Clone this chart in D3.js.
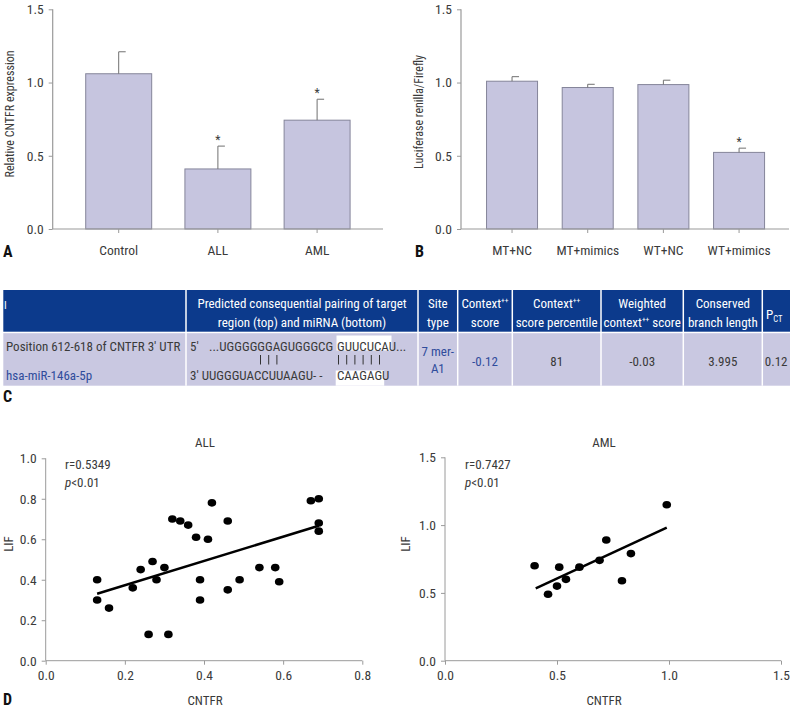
<!DOCTYPE html>
<html>
<head>
<meta charset="utf-8">
<script src="https://cdn.jsdelivr.net/npm/d3@7"></script>
<style>
  html, body { margin: 0; padding: 0; background: #fff; }
  svg { display: block; }
  text { font-family: 'Liberation Sans Narrow', 'Arial Narrow', 'Roboto Condensed', sans-serif; }
</style>
</head>
<body>
<svg id="chart" width="793" height="710"></svg>
<script>
// ---------------- DATA ----------------
const catsA = ["Control", "ALL", "AML"];
const valsA = [1.06, 0.41, 0.743];
const errA = [0.15, 0.156, 0.143];
const sigA = [false, true, true];

const catsB = ["MT+NC", "MT+mimics", "WT+NC", "WT+mimics"];
const valsB = [1.009, 0.966, 0.986, 0.523];
const errB = [0.031, 0.022, 0.030, 0.029];
const sigB = [false, false, false, true];

const barTicks = [0, 0.5, 1.0, 1.5];

const allX = [0.13,0.13,0.16,0.22,0.24,0.26,0.27,0.28,0.30,0.31,0.32,0.34,0.36,0.38,0.39,0.39,0.41,0.42,0.46,0.46,0.49,0.54,0.58,0.59,0.67,0.69,0.69,0.69];
const allY = [0.40,0.30,0.26,0.36,0.45,0.13,0.49,0.40,0.46,0.13,0.70,0.69,0.67,0.61,0.40,0.30,0.60,0.78,0.69,0.35,0.40,0.46,0.46,0.39,0.79,0.80,0.68,0.64];
const allFitX = [0.13, 0.69];
const allFitY = [0.331, 0.667];
const allTicksX = [0, 0.2, 0.4, 0.6, 0.8];
const allTicksY = [0, 0.2, 0.4, 0.6, 0.8, 1.0];

const amlX = [0.40,0.46,0.50,0.51,0.54,0.60,0.69,0.72,0.79,0.83,0.99];
const amlY = [0.70,0.49,0.55,0.69,0.60,0.69,0.74,0.89,0.59,0.79,1.15];
const amlFitX = [0.405, 0.99];
const amlFitY = [0.534, 0.981];
const amlTicks = [0, 0.5, 1.0, 1.5];

const tableHeader = [
  ["I"],
  ["Predicted consequential pairing of target", "region (top) and miRNA (bottom)"],
  ["Site", "type"],
  ["Context++", "score"],
  ["Context++", "score percentile"],
  ["Weighted", "context++ score"],
  ["Conserved", "branch length"],
  ["PCT"]
];
const tableRow = ["", "", "7 mer-|A1", "-0.12", "81", "-0.03", "3.995", "0.12"];

// ---------------- STYLE ----------------
const svg = d3.select("#chart");
const AXIS = "#9a9a9a";
const TXT = "#3a3a3a";
const BAR_FILL = "#c6c5df";
const BAR_STROKE = "#85859a";
const HEAD = "#0c3a8c";
const ROW = "#c9c8e1";
const BLUE = "#2f4c9c";
const FS = 13;
const TFS = 13.5;
const YLFS = 12;

function fmt1(d) { return d3.format(".1f")(d); }

// ---------------- BAR PANELS ----------------
function barPanel(cfg) {
  const g = svg.append("g");
  const y = d3.scaleLinear().domain([0, 1.5]).range([cfg.y0, cfg.y1]);
  const x = d3.scaleBand().domain(cfg.cats).range(cfg.xr).paddingInner(cfg.pad).paddingOuter(cfg.pad / 2);

  g.selectAll("rect.bar").data(cfg.vals).enter().append("rect")
    .attr("x", (d, i) => x(cfg.cats[i]))
    .attr("y", d => y(d))
    .attr("width", x.bandwidth())
    .attr("height", d => y(0) - y(d))
    .attr("fill", BAR_FILL).attr("stroke", BAR_STROKE).attr("stroke-width", 1);

  cfg.vals.forEach((v, i) => {
    const cx = x(cfg.cats[i]) + x.bandwidth() / 2;
    g.append("line").attr("x1", cx).attr("x2", cx).attr("y1", y(v)).attr("y2", y(v + cfg.err[i]))
      .attr("stroke", "#707070").attr("stroke-width", 1);
    g.append("line").attr("x1", cx).attr("x2", cx + 7).attr("y1", y(v + cfg.err[i])).attr("y2", y(v + cfg.err[i]))
      .attr("stroke", "#707070").attr("stroke-width", 1);
    if (cfg.sig[i]) {
      g.append("text").attr("x", cx).attr("y", y(v + cfg.err[i]) - 2.5)
        .attr("text-anchor", "middle").attr("font-size", 12).attr("fill", TXT).text("*");
    }
  });

  g.append("line").attr("x1", cfg.axX).attr("x2", cfg.axX).attr("y1", y(1.5)).attr("y2", y(0))
    .attr("stroke", AXIS).attr("stroke-width", 1.2);
  g.append("line").attr("x1", cfg.axX).attr("x2", cfg.axEnd).attr("y1", y(0)).attr("y2", y(0))
    .attr("stroke", AXIS).attr("stroke-width", 1.2);

  const ya = d3.axisLeft(y).tickValues(barTicks).tickFormat(fmt1).tickSize(4).tickPadding(5);
  const yg = g.append("g").attr("transform", `translate(${cfg.axX},0)`).call(ya);
  yg.select(".domain").remove();
  yg.selectAll("line").attr("stroke", AXIS);
  yg.selectAll("text").attr("font-size", TFS).attr("fill", TXT).attr("font-family", null);

  const xa = d3.axisBottom(x).tickSize(4).tickPadding(12);
  const xg = g.append("g").attr("transform", `translate(0,${y(0)})`).call(xa);
  xg.select(".domain").remove();
  xg.selectAll("line").attr("stroke", AXIS);
  xg.selectAll("text").attr("font-size", TFS).attr("fill", TXT).attr("font-family", null);

  g.append("text").attr("transform", `translate(${cfg.labX},${cfg.labY}) rotate(-90)`)
    .attr("text-anchor", "middle").attr("font-size", YLFS).attr("fill", TXT).text(cfg.ylabel);

  g.append("text").attr("x", cfg.letX).attr("y", 257).attr("font-size", 16).attr("font-weight", "bold")
    .attr("fill", "#111").text(cfg.letter);
}

barPanel({ cats: catsA, vals: valsA, err: errA, sig: sigA, y0: 229, y1: 9.3,
  xr: [69.1, 366.7], pad: 0.335, axX: 52.7, axEnd: 383,
  ylabel: "Relative CNTFR expression", labX: 13.5, labY: 114, letX: 3, letter: "A" });

barPanel({ cats: catsB, vals: valsB, err: errB, sig: sigB, y0: 229, y1: 9.3,
  xr: [474.2, 776.9], pad: 0.326, axX: 461, axEnd: 789,
  ylabel: "Luciferase renilla/Firefly", labX: 423, labY: 112, letX: 415, letter: "B" });

// ---------------- TABLE ----------------
const colX = [3.3, 186, 418, 457.7, 512.3, 601, 683.3, 762.3, 790];
const headTop = 290, headBot = 331.7, rowTop = 333.2, rowBot = 385.7;
const tg = svg.append("g");
tg.append("rect").attr("x", colX[0]).attr("y", headTop).attr("width", colX[8] - colX[0]).attr("height", headBot - headTop).attr("fill", HEAD);
tg.append("rect").attr("x", colX[0]).attr("y", rowTop).attr("width", colX[8] - colX[0]).attr("height", rowBot - rowTop).attr("fill", ROW);
colX.slice(1, 8).forEach(cx => {
  tg.append("line").attr("x1", cx).attr("x2", cx).attr("y1", headTop).attr("y2", rowBot)
    .attr("stroke", "#fff").attr("stroke-width", 1.5);
});

function addSup(textSel, str) {
  if (str === "PCT") {
    textSel.append("tspan").text("P");
    textSel.append("tspan").attr("font-size", 8.5).attr("dy", 3).text("CT");
    return;
  }
  const idx = str.indexOf("++");
  if (idx < 0) { textSel.text(str); return; }
  textSel.append("tspan").text(str.slice(0, idx));
  textSel.append("tspan").attr("font-size", 7.5).attr("dy", -5).text("++");
  const rest = str.slice(idx + 2);
  if (rest) textSel.append("tspan").attr("dy", 5).text(rest);
}

tableHeader.forEach((lines, i) => {
  const cx = (colX[i] + colX[i + 1]) / 2;
  if (i === 0) {
    tg.append("text").attr("x", 4).attr("y", 309).attr("font-size", 11).attr("fill", "#fff").text(lines[0]);
    return;
  }
  if (lines.length === 1) {
    const t = tg.append("text").attr("x", cx - 2).attr("y", 319).attr("text-anchor", "middle")
      .attr("font-size", FS).attr("fill", "#fff");
    addSup(t, lines[0]);
    return;
  }
  lines.forEach((ln, k) => {
    const t = tg.append("text").attr("x", cx).attr("y", k === 0 ? 307.7 : 326.7).attr("text-anchor", "middle")
      .attr("font-size", FS).attr("fill", "#fff");
    addSup(t, ln);
  });
});

tg.append("text").attr("x", 6).attr("y", 351).attr("font-size", FS).attr("fill", TXT).text("Position 612-618 of CNTFR 3' UTR");
tg.append("text").attr("x", 6).attr("y", 380).attr("font-size", FS).attr("fill", BLUE).text("hsa-miR-146a-5p");

tg.append("rect").attr("x", 336.5).attr("y", 335.5).attr("width", 55).attr("height", 15).attr("fill", "#fff");
tg.append("rect").attr("x", 335.7).attr("y", 370.5).attr("width", 48.5).attr("height", 15.2).attr("fill", "#fff");
tg.append("text").attr("x", 190).attr("y", 351).attr("font-size", FS).attr("fill", TXT).text("5'");
tg.append("text").attr("x", 209).attr("y", 351).attr("font-size", FS).attr("fill", TXT).text("...UGGGGGGAGUGGGCG");
tg.append("text").attr("x", 337).attr("y", 351).attr("font-size", FS).attr("fill", TXT).text("GUUCUCAU...");
tg.append("text").attr("x", 190).attr("y", 380).attr("font-size", FS).attr("fill", TXT).text("3' UUGGGUACCUUAAGU- -");
tg.append("text").attr("x", 337).attr("y", 380).attr("font-size", FS).attr("fill", TXT).text("CAAGAGU");
const pairStarts = [[260.5, 3], [338.5, 6]];
pairStarts.forEach(([sx, n]) => {
  d3.range(n).forEach(k => {
    tg.append("line").attr("x1", sx + k * 8.2).attr("x2", sx + k * 8.2).attr("y1", 355).attr("y2", 364.5)
      .attr("stroke", "#333").attr("stroke-width", 1);
  });
});

tableRow.forEach((val, i) => {
  if (i < 2) return;
  const cx = (colX[i] + colX[i + 1]) / 2;
  const col = (i === 2 || i === 3) ? BLUE : TXT;
  if (val.includes("|")) {
    val.split("|").forEach((ln, k) => {
      tg.append("text").attr("x", cx).attr("y", k === 0 ? 355.7 : 373.3).attr("text-anchor", "middle")
        .attr("font-size", FS).attr("fill", col).text(ln);
    });
  } else {
    tg.append("text").attr("x", cx).attr("y", 365.7).attr("text-anchor", "middle")
      .attr("font-size", FS).attr("fill", col).text(val);
  }
});
tg.append("text").attr("x", 3).attr("y", 402).attr("font-size", 16).attr("font-weight", "bold").attr("fill", "#111").text("C");

// ---------------- SCATTER PANELS ----------------
function scatterPanel(cfg) {
  const g = svg.append("g");
  const x = d3.scaleLinear().domain(cfg.xd).range(cfg.xr);
  const y = d3.scaleLinear().domain(cfg.yd).range(cfg.yr);

  const xa = d3.axisBottom(x).tickValues(cfg.xt).tickFormat(fmt1).tickSize(4).tickPadding(6);
  const xg = g.append("g").attr("transform", `translate(0,${cfg.yr[0]})`).call(xa);
  xg.select(".domain").attr("stroke", AXIS).attr("d", `M${cfg.xr[0]},0H${cfg.xr[1]}`);
  xg.selectAll("line").attr("stroke", AXIS);
  xg.selectAll("text").attr("font-size", TFS).attr("fill", TXT).attr("font-family", null);

  const ya = d3.axisLeft(y).tickValues(cfg.yt).tickFormat(fmt1).tickSize(4).tickPadding(5);
  const yg = g.append("g").attr("transform", `translate(${cfg.xr[0]},0)`).call(ya);
  yg.select(".domain").attr("stroke", AXIS).attr("d", `M0,${cfg.yr[0]}V${cfg.yr[1]}`);
  yg.selectAll("line").attr("stroke", AXIS);
  yg.selectAll("text").attr("font-size", TFS).attr("fill", TXT).attr("font-family", null);

  g.append("line")
    .attr("x1", x(cfg.fx[0])).attr("y1", y(cfg.fy[0]))
    .attr("x2", x(cfg.fx[1])).attr("y2", y(cfg.fy[1]))
    .attr("stroke", "#000").attr("stroke-width", 2.5);

  g.selectAll("ellipse.pt").data(cfg.xs).enter().append("ellipse")
    .attr("cx", d => x(d)).attr("cy", (d, i) => y(cfg.ys[i]))
    .attr("rx", 4.3).attr("ry", 3.8).attr("fill", "#000");

  g.append("text").attr("x", cfg.titleX).attr("y", 447.3).attr("text-anchor", "middle")
    .attr("font-size", FS).attr("fill", TXT).text(cfg.title);
  g.append("text").attr("x", cfg.titleX).attr("y", 705).attr("text-anchor", "middle")
    .attr("font-size", FS).attr("fill", TXT).text("CNTFR");
  g.append("text").attr("transform", `translate(${cfg.lifX},544) rotate(-90)`).attr("text-anchor", "middle")
    .attr("font-size", FS).attr("fill", TXT).text("LIF");
  g.append("text").attr("x", cfg.rX).attr("y", 469.3).attr("font-size", FS).attr("fill", TXT).text(cfg.r);
  const pt = g.append("text").attr("x", cfg.rX).attr("y", 487.3).attr("font-size", FS).attr("fill", TXT);
  pt.append("tspan").attr("font-style", "italic").text("p");
  pt.append("tspan").text("<0.01");
}

scatterPanel({ xd: [0, 0.8], xr: [45.7, 362.3], yd: [0, 1], yr: [660.7, 458.3],
  xt: allTicksX, yt: allTicksY, xs: allX, ys: allY, fx: allFitX, fy: allFitY,
  title: "ALL", titleX: 205, lifX: 12.5, rX: 65, r: "r=0.5349" });

scatterPanel({ xd: [0, 1.5], xr: [445, 781], yd: [0, 1.5], yr: [660.7, 457.3],
  xt: amlTicks, yt: amlTicks, xs: amlX, ys: amlY, fx: amlFitX, fy: amlFitY,
  title: "AML", titleX: 604, lifX: 410, rX: 465, r: "r=0.7427" });

svg.append("text").attr("x", 3).attr("y", 705).attr("font-size", 16).attr("font-weight", "bold").attr("fill", "#111").text("D");
</script>
</body>
</html>
